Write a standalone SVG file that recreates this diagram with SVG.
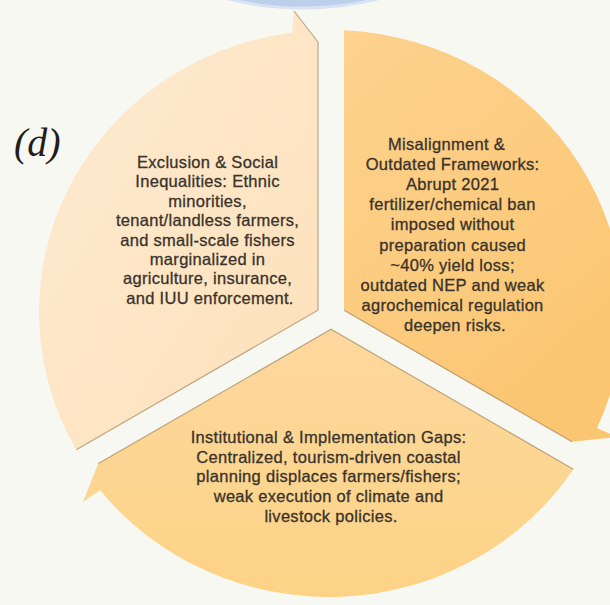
<svg xmlns="http://www.w3.org/2000/svg" width="610" height="605" viewBox="0 0 610 605">
  <defs>
    <linearGradient id="gLeft" x1="0" y1="0" x2="1" y2="1">
      <stop offset="0" stop-color="#feebd2"/>
      <stop offset="1" stop-color="#fde0b9"/>
    </linearGradient>
    <linearGradient id="gRight" x1="0" y1="0" x2="0.6" y2="1">
      <stop offset="0" stop-color="#fdd28e"/>
      <stop offset="1" stop-color="#fbc672"/>
    </linearGradient>
    <linearGradient id="gBottom" x1="0" y1="0" x2="0" y2="1">
      <stop offset="0" stop-color="#fdd89e"/>
      <stop offset="1" stop-color="#fcd386"/>
    </linearGradient>
    <linearGradient id="gBlue" x1="0" y1="0" x2="0" y2="1">
      <stop offset="0" stop-color="#a9c0e4"/>
      <stop offset="1" stop-color="#bccfeb"/>
    </linearGradient>
  </defs>
  <style>
    .lbl { font-family: "Liberation Sans", Arial, sans-serif; font-size: 16.5px; letter-spacing: 0.3px; fill: #39332b; stroke: #39332b; stroke-width: 0.3px; text-anchor: middle; }
    .tag { font-family: "Liberation Serif", "Times New Roman", serif; font-style: italic; font-size: 40px; fill: #1e1e1e; }
    .edge { stroke: #8c6c3c; stroke-opacity: 0.55; stroke-width: 1.2; fill: none; }
  </style>
  <rect width="610" height="605" fill="#f8f8f3"/>

  <g id="central-node">
    <circle cx="303" cy="-302" r="310" fill="url(#gBlue)" stroke="#d8e2f1" stroke-width="3"/>
  </g>

  <text class="tag" x="14" y="156">(d)</text>

  <g id="node-exclusion">
    <path d="M318,310.2 L76.3,449.8 A292,282 0 0 1 292,32.5 L294,11 L318,42 Z" fill="url(#gLeft)"/>
    <text class="lbl">
      <tspan x="210" y="168">Exclusion &amp; Social</tspan>
      <tspan x="210" y="187.4">Inequalities: Ethnic</tspan>
      <tspan x="210" y="206.8">minorities,</tspan>
      <tspan x="210" y="226.2">tenant/landless farmers,</tspan>
      <tspan x="210" y="245.6">and small-scale fishers</tspan>
      <tspan x="210" y="265">marginalized in</tspan>
      <tspan x="210" y="284.4">agriculture, insurance,</tspan>
      <tspan x="210" y="303.8">and IUU enforcement.</tspan>
    </text>
  </g>

  <g id="node-misalignment">
    <path d="M344,310.2 L344,30.3 A292,282 0 0 1 597,428 L617,437 L572,441.8 Z" fill="url(#gRight)"/>
    <text class="lbl">
      <tspan x="449" y="150">Misalignment &amp;</tspan>
      <tspan x="455" y="170.1">Outdated Frameworks:</tspan>
      <tspan x="455" y="190.2">Abrupt 2021</tspan>
      <tspan x="455" y="210.3">fertilizer/chemical ban</tspan>
      <tspan x="455" y="230.4">imposed without</tspan>
      <tspan x="455" y="250.5">preparation caused</tspan>
      <tspan x="455" y="270.6">~40% yield loss;</tspan>
      <tspan x="455" y="290.7">outdated NEP and weak</tspan>
      <tspan x="455" y="310.8">agrochemical regulation</tspan>
      <tspan x="455" y="330.9">deepen risks.</tspan>
    </text>
  </g>

  <g id="node-institutional">
    <path d="M331,329.3 L573.4,469.2 A292,282 0 0 1 100,490 L83,502 L98.3,463.6 Z" fill="url(#gBottom)"/>
    <text class="lbl">
      <tspan x="331" y="443">Institutional &amp; Implementation Gaps:</tspan>
      <tspan x="331" y="462.7">Centralized, tourism-driven coastal</tspan>
      <tspan x="331" y="482.4">planning displaces farmers/fishers;</tspan>
      <tspan x="331" y="502.1">weak execution of climate and</tspan>
      <tspan x="331" y="521.8">livestock policies.</tspan>
    </text>
  </g>

  <g id="connectors">
    <path class="edge" d="M318,42 L318,310.2 L76.3,449.8"/>
    <path class="edge" d="M294,11 L318,42"/>
    <path class="edge" d="M344,310.2 L572,441.8"/>
    <path class="edge" d="M98.3,463.6 L331,329.3 L573.4,469.2"/>
  </g>
</svg>
